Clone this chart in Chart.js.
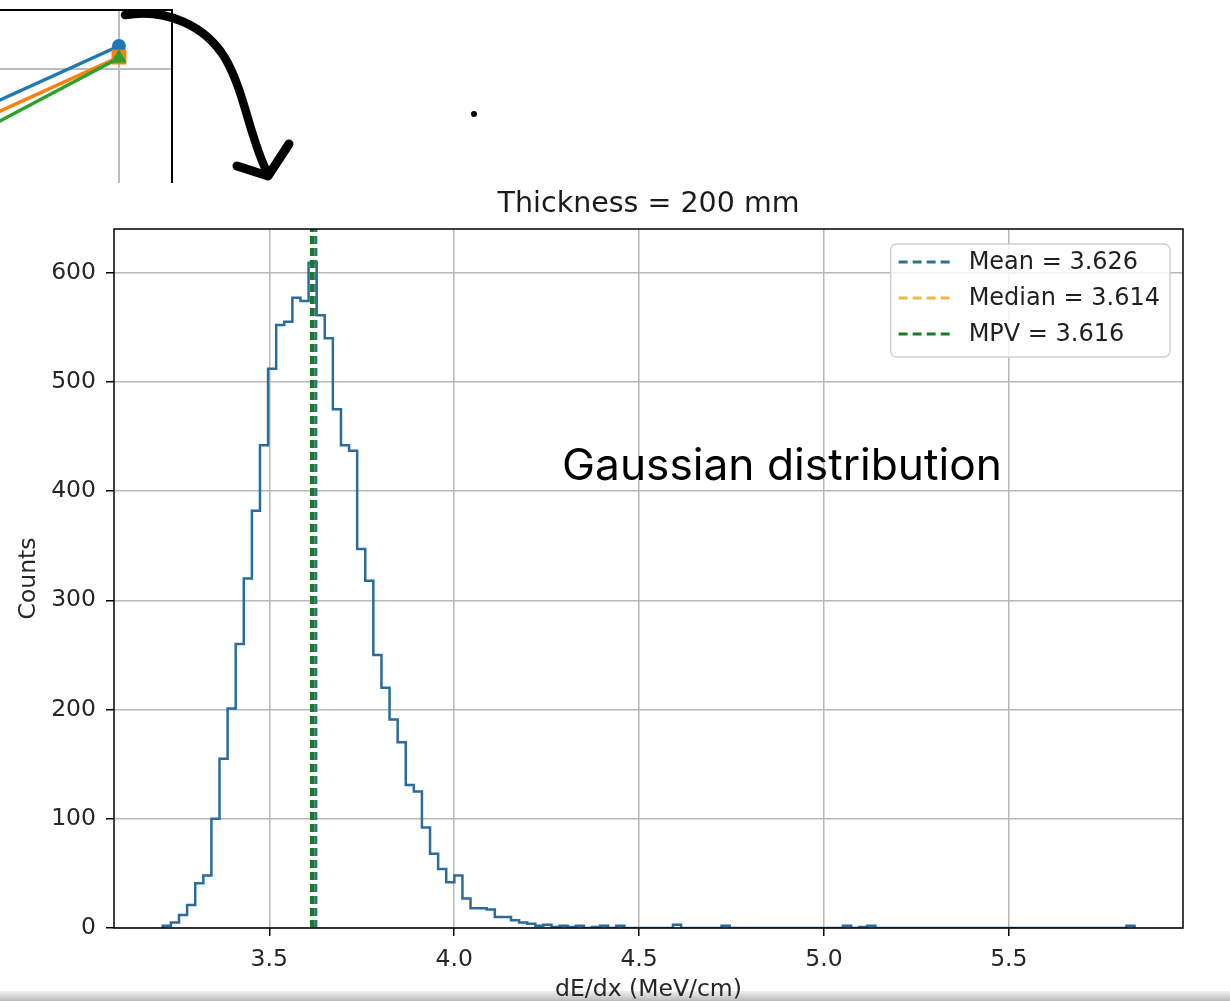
<!DOCTYPE html>
<html lang="en">
<head>
<meta charset="utf-8">
<title>Thickness = 200 mm</title>
<script src="https://cdn.jsdelivr.net/npm/chart.js@4.4.1/dist/chart.umd.min.js"></script>
<style>
    html, body { margin: 0; padding: 0; background: #fff; overflow: hidden; }
    #page { position: relative; width: 1230px; height: 1002px; }
    #barre { position: absolute; left: 0; top: 991px; width: 1230px; height: 10px;
             background: linear-gradient(#efefef, #bbbbbb); }
    #graphique { position: absolute; left: 0; top: 0; }
    #fragment { position: absolute; left: 0; top: 0; width: 173px; height: 183px; overflow: hidden; }
    #mini { position: absolute; left: -427px; top: 9px; }
    #fleche { position: absolute; left: 0; top: 0; }
</style>
</head>
<body>
<div id="page">
    <div id="barre"></div>
    <canvas id="graphique" width="1230" height="1002"></canvas>
    <div id="fragment"><canvas id="mini" width="600" height="400"></canvas></div>
    <svg id="fleche" width="500" height="200">
        <path d="M125 15 C 165 8, 205 25, 225 58 C 245 92, 250 140, 268 174"
              stroke="#000" stroke-width="8.5" fill="none" stroke-linecap="round"/>
        <path d="M237 166 L 268 176 L 289 144"
              stroke="#000" stroke-width="9" fill="none" stroke-linecap="round" stroke-linejoin="round"/>
        <circle cx="474" cy="114" r="3" fill="#000"/>
    </svg>
</div>
<script>
// Histogramme dE/dx
const debutBins = 3.212;
const largeurBin = 0.0219;
const comptages = [
    2, 5, 12, 21, 41, 48, 100, 155, 201, 260,
    320, 382, 442, 512, 552, 555, 577, 574, 609, 561,
    540, 475, 442, 437, 347, 318, 250, 220, 191, 170,
    131, 125, 92, 68, 54, 42, 48, 27, 18, 18,
    17, 10, 10, 7, 5, 4, 2, 3, 1, 2,
    1, 2, 0, 1, 2, 0, 2, 0, 0, 0,
    0, 0, 0, 3, 0, 0, 0, 0, 0, 2,
    0, 0, 0, 0, 0, 0, 0, 0, 0, 0,
    0, 0, 0, 0, 2, 0, 1, 2, 0, 0,
    0, 0, 0, 0, 0, 0, 0, 0, 0, 0,
    0, 0, 0, 0, 0, 0, 0, 0, 0, 0,
    0, 0, 0, 0, 0, 0, 0, 0, 0, 2
];
const ticksX = [3.5, 4.0, 4.5, 5.0, 5.5];
const ticksY = [0, 100, 200, 300, 400, 500, 600];

// Statistiques (lignes verticales)
const statsNoms = ['Mean', 'Median', 'MPV'];
const statsValeurs = [3.626, 3.614, 3.616];
const statsCouleurs = ['#2b7489', '#f0b840', '#177a2c'];

const titre = 'Thickness = 200 mm';
const annotationTexte = 'Gaussian distribution';

// Fragment du graphique précédent (coin haut gauche)
const miniX = [3, 4];
const miniBleu = [0.8239, 0.9179];
const miniOrange = [0.8155, 0.9094];
const miniVert = [0.7992, 0.9087];
const miniTicksX = [2, 3, 4];
const miniTicksY = [0.7, 0.8, 0.9];

Chart.defaults.font.family = "'DejaVu Sans', sans-serif";

// Contour de l'histogramme (type "step")
function pointsHistogramme() {
    const pts = [{x: debutBins, y: 0}];
    comptages.forEach((c, i) => {
        pts.push({x: debutBins + i * largeurBin, y: c});
        pts.push({x: debutBins + (i + 1) * largeurBin, y: c});
    });
    pts.push({x: debutBins + comptages.length * largeurBin, y: 0});
    return pts;
}

// Cadre noir autour de la zone de tracé
const cadrePlugin = {
    id: 'cadre',
    afterDatasetsDraw(chart, args, opts) {
        const {ctx, chartArea: a} = chart;
        ctx.save();
        ctx.strokeStyle = opts.couleur || '#000';
        ctx.lineWidth = opts.epaisseur || 1.5;
        ctx.strokeRect(a.left, a.top, a.right - a.left, a.bottom - a.top);
        ctx.restore();
    }
};

// Titre centré sur la zone de tracé (comme matplotlib)
const titrePlugin = {
    id: 'titreAxes',
    afterDraw(chart) {
        const {ctx, chartArea: a} = chart;
        ctx.save();
        ctx.font = "28.5px 'DejaVu Sans'";
        ctx.fillStyle = '#1a1a1a';
        ctx.textAlign = 'center';
        ctx.textBaseline = 'middle';
        ctx.fillText(titre, (a.left + a.right) / 2, a.top - 24);
        ctx.restore();
    }
};

// Légende façon matplotlib (en haut à droite)
const legendePlugin = {
    id: 'legendeStats',
    afterDatasetsDraw(chart) {
        const {ctx, chartArea: a} = chart;
        ctx.save();
        ctx.font = "24px 'DejaVu Sans'";
        const textes = statsNoms.map((n, i) => `${n} = ${statsValeurs[i].toFixed(3)}`);
        const largeurTexte = Math.max(...textes.map(t => ctx.measureText(t).width));
        const w = 8 + 52 + 18 + largeurTexte + 10;
        const h = 18 + 36 * (textes.length - 1) + 23;
        const x = a.right - 13 - w;
        const y = a.top + 15;

        ctx.beginPath();
        ctx.roundRect(x, y, w, h, 6);
        ctx.fillStyle = 'rgba(255,255,255,0.8)';
        ctx.fill();
        ctx.strokeStyle = '#cfcfcf';
        ctx.lineWidth = 1.5;
        ctx.stroke();

        textes.forEach((t, i) => {
            const yl = y + 18 + 36 * i;
            ctx.beginPath();
            ctx.setLineDash([9, 5]);
            ctx.strokeStyle = statsCouleurs[i];
            ctx.lineWidth = 3;
            ctx.moveTo(x + 8, yl);
            ctx.lineTo(x + 60, yl);
            ctx.stroke();
            ctx.setLineDash([]);
            ctx.fillStyle = '#1f1f1f';
            ctx.textBaseline = 'middle';
            ctx.fillText(t, x + 78, yl + 1);
        });
        ctx.restore();
    }
};

// Texte ajouté sur le graphique
const annotationPlugin = {
    id: 'annotation',
    afterDraw(chart) {
        const ctx = chart.ctx;
        ctx.save();
        ctx.font = '40px Inter';
        const taille = 40 * 440 / ctx.measureText(annotationTexte).width;
        ctx.font = `${taille}px Inter`;
        ctx.fillStyle = '#000';
        ctx.textBaseline = 'alphabetic';
        ctx.fillText(annotationTexte, 562, 480);
        ctx.restore();
    }
};

const jeux = [{
    data: pointsHistogramme(),
    borderColor: '#2a6b9a',
    borderWidth: 2.5,
    pointRadius: 0,
    fill: false,
    order: 4
}];
statsNoms.forEach((n, i) => {
    jeux.push({
        label: n,
        data: [{x: statsValeurs[i], y: 0}, {x: statsValeurs[i], y: 640}],
        borderColor: statsCouleurs[i],
        borderWidth: n === 'MPV' ? 4.5 : 3,
        borderDash: [8, 4],
        pointRadius: 0,
        fill: false,
        order: 3 - i
    });
});

const styleTicks = { color: '#262626', font: { size: 23.5 }, padding: 10 };
const styleGrille = { color: '#b8b8b8', lineWidth: 1.5, tickColor: '#000', tickWidth: 1.5, tickLength: 8 };

new Chart(document.getElementById('graphique'), {
    type: 'line',
    data: { datasets: jeux },
    plugins: [cadrePlugin, legendePlugin, titrePlugin, annotationPlugin],
    options: {
        responsive: false,
        animation: false,
        layout: { autoPadding: false, padding: { left: 0, right: 47, top: 229, bottom: 0 } },
        plugins: {
            legend: { display: false },
            tooltip: { enabled: false },
            title: { display: false },
            cadre: { couleur: '#000', epaisseur: 1.5 }
        },
        scales: {
            x: {
                type: 'linear',
                min: 3.080,
                max: 5.971,
                afterBuildTicks: s => { s.ticks = ticksX.map(v => ({value: v})); },
                afterFit: s => { s.height = 74; },
                ticks: { ...styleTicks, maxRotation: 0, callback: v => Number(v).toFixed(1) },
                grid: styleGrille,
                border: { display: false },
                title: {
                    display: true,
                    text: 'dE/dx (MeV/cm)',
                    color: '#262626',
                    font: { size: 23.5 },
                    padding: { top: 0, bottom: -2 }
                }
            },
            y: {
                min: 0,
                max: 640,
                afterBuildTicks: s => { s.ticks = ticksY.map(v => ({value: v})); },
                afterFit: s => { s.width = 114; },
                ticks: styleTicks,
                grid: styleGrille,
                border: { display: false },
                title: {
                    display: true,
                    text: 'Counts',
                    color: '#262626',
                    font: { size: 23.5 },
                    padding: { top: 15, bottom: 0 }
                }
            }
        }
    }
});

// Morceau du graphique précédent, coupé par le cadre
const miniJeu = (valeurs, couleur, style, rayon, ordre) => ({
    data: miniX.map((x, i) => ({x: x, y: valeurs[i]})),
    borderColor: couleur,
    backgroundColor: couleur,
    borderWidth: 3.5,
    pointStyle: style,
    pointRadius: rayon,
    pointBorderWidth: 0,
    fill: false,
    order: ordre
});

new Chart(document.getElementById('mini'), {
    type: 'line',
    data: {
        datasets: [
            miniJeu(miniBleu, '#1f77b4', 'circle', 7, 3),
            miniJeu(miniOrange, '#ff7f0e', 'rect', 10.5, 2),
            miniJeu(miniVert, '#2ca02c', 'triangle', 9, 1)
        ]
    },
    plugins: [cadrePlugin],
    options: {
        responsive: false,
        animation: false,
        layout: { autoPadding: false, padding: 0 },
        plugins: {
            legend: { display: false },
            tooltip: { enabled: false },
            cadre: { couleur: '#000', epaisseur: 4 }
        },
        scales: {
            x: {
                type: 'linear', min: 1.98, max: 4.2,
                afterBuildTicks: s => { s.ticks = miniTicksX.map(v => ({value: v})); },
                afterFit: s => { s.height = 0; },
                ticks: { display: false },
                grid: { color: '#bcbcbc', lineWidth: 2, drawTicks: false },
                border: { display: false }
            },
            y: {
                min: 0.64, max: 0.9462,
                afterBuildTicks: s => { s.ticks = miniTicksY.map(v => ({value: v})); },
                afterFit: s => { s.width = 0; },
                ticks: { display: false },
                grid: { color: '#bcbcbc', lineWidth: 2, drawTicks: false },
                border: { display: false }
            }
        }
    }
});
</script>
</body>
</html>
